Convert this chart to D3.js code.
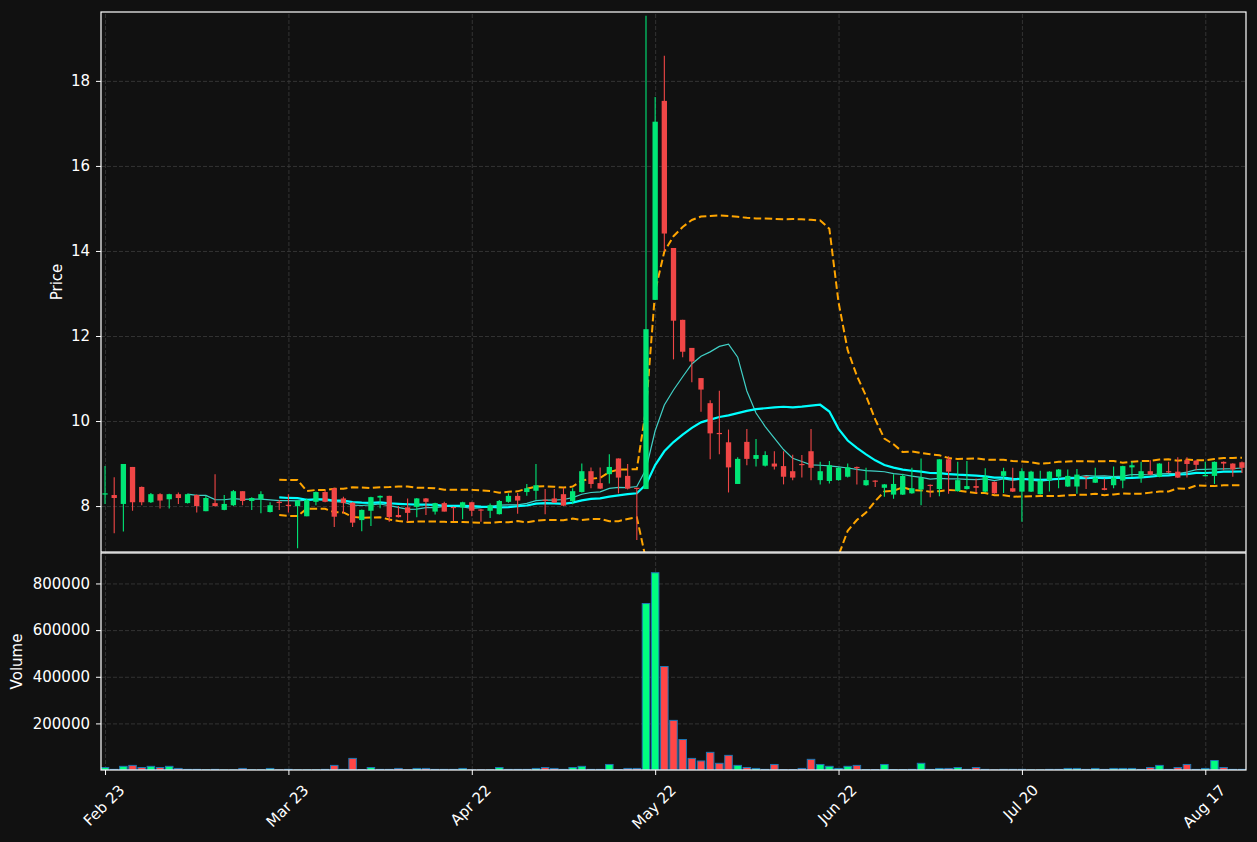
<!DOCTYPE html>
<html><head><meta charset="utf-8">
<script src="https://cdn.jsdelivr.net/npm/d3@7"></script>
<style>html,body{margin:0;padding:0;background:#111111;} svg{display:block;}</style>
</head><body>
<svg id="chart" width="1257" height="842"></svg>
<script>
// ---- data ----
const opens = [8.27,8.26,8.05,8.92,8.45,8.09,8.28,8.16,8.28,8.07,
8.26,7.88,8.07,7.91,8.02,8.35,8.12,8.16,7.86,8.10,
8.03,8.00,7.76,8.10,8.33,8.42,8.18,8.08,7.67,7.89,
8.20,8.24,7.79,7.97,7.98,8.18,7.87,8.07,7.98,7.97,
8.09,7.92,7.89,7.81,8.10,8.24,8.33,8.36,8.15,8.18,
8.28,8.12,8.33,8.82,8.54,8.75,9.12,8.71,8.43,8.40,
12.85,17.53,14.07,12.38,11.72,11.01,10.42,9.72,9.50,8.52,
9.51,9.11,8.95,9.00,8.94,8.82,8.99,9.29,8.61,8.59,
8.61,8.69,8.92,8.49,8.60,8.43,8.27,8.27,8.30,8.39,
8.50,8.40,9.10,8.35,8.40,8.47,8.34,8.57,8.71,8.42,
8.34,8.34,8.28,8.61,8.69,8.46,8.46,8.70,8.55,8.42,
8.49,8.60,8.91,8.67,8.82,8.69,8.82,8.81,9.08,9.07,
8.71,8.71,9.04,9.00,9.03];
const highs = [8.94,8.68,8.99,8.92,8.46,8.31,8.30,8.29,8.32,8.29,
8.27,8.24,8.75,8.26,8.38,8.35,8.21,8.35,8.09,8.14,
8.28,8.14,8.18,8.34,8.37,8.43,8.22,8.09,7.92,8.22,
8.25,8.24,8.00,8.18,8.19,8.19,8.08,8.10,7.99,8.10,
8.10,7.93,8.06,8.14,8.30,8.31,8.52,8.99,8.40,8.40,
8.43,8.42,9.00,8.91,8.91,9.22,9.12,8.99,8.43,19.53,
17.62,18.59,14.07,12.38,11.72,11.01,10.49,10.71,9.80,9.15,
9.81,9.58,9.29,9.29,9.29,9.21,9.20,9.81,9.04,9.06,
8.92,9.00,8.93,8.90,8.61,8.52,8.75,8.76,8.90,9.12,
8.51,9.10,9.17,9.04,9.06,8.65,8.89,8.58,8.90,8.90,
8.89,8.83,8.83,8.82,8.87,8.86,8.87,8.71,8.90,8.65,
8.93,8.95,9.04,9.04,9.08,9.01,9.04,9.15,9.15,9.08,
9.04,9.05,9.05,9.01,9.05];
const lows = [8.05,7.36,7.40,7.89,8.02,8.07,7.94,7.94,8.05,8.06,
7.85,7.88,7.99,7.90,8.00,8.02,7.91,7.83,7.85,7.91,
7.85,7.01,7.76,8.02,8.09,7.51,7.83,7.51,7.41,7.53,
7.95,7.63,7.73,7.63,7.74,7.79,7.80,7.87,7.65,7.69,
7.76,7.63,7.72,7.80,8.08,7.82,8.24,8.15,7.81,8.07,
8.00,8.04,8.32,8.42,8.40,8.53,8.30,8.39,7.20,8.40,
12.85,14.00,11.45,11.50,10.91,10.22,9.10,9.22,8.32,8.52,
8.96,8.93,8.93,8.86,8.51,8.61,8.67,8.61,8.51,8.53,
8.60,8.67,8.51,8.48,8.45,8.22,8.17,8.26,8.29,8.02,
8.21,8.23,8.29,8.34,8.39,8.31,8.32,8.29,8.31,8.33,
7.63,8.33,8.27,8.34,8.42,8.45,8.29,8.40,8.54,8.37,
8.42,8.42,8.69,8.55,8.73,8.68,8.77,8.66,8.67,8.84,
8.70,8.52,8.84,8.69,8.78];
const closes = [8.30,8.19,8.99,8.09,8.09,8.28,8.13,8.28,8.19,8.28,
8.00,8.19,8.00,8.05,8.35,8.12,8.19,8.28,8.02,8.08,
8.01,8.13,8.14,8.33,8.10,7.75,8.07,7.61,7.91,8.21,
8.24,7.74,7.74,7.84,8.18,8.10,8.07,7.87,7.96,8.09,
7.89,7.90,8.02,8.12,8.24,8.13,8.42,8.49,8.13,8.08,
8.01,8.35,8.82,8.52,8.41,8.92,8.67,8.41,8.41,12.16,
17.04,14.41,12.36,11.63,11.40,10.74,9.71,9.70,8.91,9.11,
9.11,9.20,9.20,8.93,8.69,8.67,8.97,8.90,8.82,8.96,
8.90,8.91,8.90,8.61,8.59,8.51,8.52,8.71,8.42,8.67,
8.48,9.10,8.81,8.61,8.47,8.43,8.69,8.30,8.82,8.34,
8.82,8.81,8.60,8.81,8.86,8.71,8.74,8.68,8.67,8.38,
8.67,8.94,8.96,8.82,8.74,9.00,8.80,8.67,8.99,8.97,
8.73,9.04,9.00,8.86,8.90];
const volumes = [11000,3000,16000,20000,11000,16000,11000,16000,7000,3000,
3000,1500,3000,1000,1000,7000,1000,1000,7000,1000,
3000,1000,1000,1000,3000,20000,3000,50000,2000,11000,
3000,3000,7000,1000,7000,7000,3000,3000,3000,7000,
1000,1000,1000,11000,3000,3000,3000,7000,11000,7000,
3000,11000,16000,3000,3000,24000,2000,7000,7000,714000,
846000,444000,213000,131000,50000,39000,76000,29000,63000,20000,
11000,7000,3000,24000,2000,2000,7000,46000,24000,16000,
7000,16000,20000,2000,2000,24000,2000,2000,3000,29000,
3000,7000,7000,11000,3000,11000,3000,1000,3000,3000,
3000,1000,1000,3000,3000,7000,7000,3000,7000,3000,
7000,7000,7000,3000,11000,20000,3000,11000,24000,3000,
7000,41000,11000,3000,3000];
const tickIndex = [0,20,40,60,80,100,120];
const tickLabels = ["Feb 23","Mar 23","Apr 22","May 22","Jun 22","Jul 20","Aug 17"];
const priceTicks = [8,10,12,14,16,18];
const volumeTicks = [200000,400000,600000,800000];
const maShort = 10, maLong = 20, bbWindow = 20, bbK = 2;

// ---- layout & style ----
const L = 101, R = 1246, pTop = 12, pBot = 552, vTop = 553, vBot = 770;
const FONT = "DejaVu Sans, sans-serif";
const FS = 15;
const upC = "#00e676", downC = "#f04646", upV = "#00ff80", downV = "#ff4646";

const svg = d3.select("#chart");
svg.append("rect").attr("width",1257).attr("height",842).attr("fill","#111111");

const n = closes.length;
const x = d3.scaleLinear().domain([-0.44, n - 1 + 0.44]).range([L, R]);
const step = x(1) - x(0);
const lo = d3.min(lows), hi = d3.max(highs), pad = (hi - lo) * 0.0072;
const y = d3.scaleLinear().domain([lo - pad, hi + pad]).range([pBot, pTop]);
const yv = d3.scaleLinear().domain([0.3 * d3.min(volumes), 1.1 * d3.max(volumes)]).range([vBot, vTop]);

const defs = svg.append("defs");
defs.append("clipPath").attr("id","clipP").append("rect").attr("x",L).attr("y",pTop).attr("width",R-L).attr("height",pBot-pTop);
defs.append("clipPath").attr("id","clipV").append("rect").attr("x",L).attr("y",vTop).attr("width",R-L).attr("height",vBot-vTop);

function styleGrid(g){
  g.select(".domain").remove();
  g.selectAll("text").remove();
  g.selectAll("line").attr("stroke","#3c3c3c").attr("stroke-width",0.8).attr("stroke-dasharray","4,2");
}
svg.append("g").attr("transform",`translate(${L},0)`).call(d3.axisLeft(y).tickValues(priceTicks).tickSize(-(R-L))).call(styleGrid);
svg.append("g").attr("transform",`translate(${L},0)`).call(d3.axisLeft(yv).tickValues(volumeTicks).tickSize(-(R-L))).call(styleGrid);
svg.append("g").attr("transform",`translate(0,${pBot})`).call(d3.axisBottom(x).tickValues(tickIndex).tickSize(-(pBot-pTop))).call(styleGrid);
svg.append("g").attr("transform",`translate(0,${vBot})`).call(d3.axisBottom(x).tickValues(tickIndex).tickSize(-(vBot-vTop))).call(styleGrid);

// indicators computed from the closes
function sma(arr, w){ return arr.map((_,i)=> i < w-1 ? null : d3.mean(arr.slice(i-w+1,i+1))); }
function pstd(arr, w){ return arr.map((_,i)=> {
  if (i < w-1) return null;
  const s = arr.slice(i-w+1,i+1), m = d3.mean(s);
  return Math.sqrt(d3.mean(s, v => (v-m)*(v-m)));
}); }
const ma10 = sma(closes, maShort), ma20 = sma(closes, maLong);
const bbMid = sma(closes, bbWindow), bbSd = pstd(closes, bbWindow);
const bbUp = bbMid.map((m,i)=> m==null?null:m + bbK*bbSd[i]);
const bbLo = bbMid.map((m,i)=> m==null?null:m - bbK*bbSd[i]);

const line = d3.line().defined(d=>d!=null).x((d,i)=>x(i)).y(d=>y(d));
const lines = svg.append("g").attr("clip-path","url(#clipP)");
lines.append("path").datum(bbUp).attr("d",line).attr("fill","none").attr("stroke","#ffa500").attr("stroke-width",2).attr("stroke-dasharray","7.5,3.5");
lines.append("path").datum(bbLo).attr("d",line).attr("fill","none").attr("stroke","#ffa500").attr("stroke-width",2).attr("stroke-dasharray","7.5,3.5");
lines.append("path").datum(ma10).attr("d",line).attr("fill","none").attr("stroke","#40d0c6").attr("stroke-width",1.2);
lines.append("path").datum(ma20).attr("d",line).attr("fill","none").attr("stroke","#00ffff").attr("stroke-width",2.2);

// candles
const bw = step * 0.58;
const cg = svg.append("g").attr("clip-path","url(#clipP)");
const idx = d3.range(n);
cg.selectAll("line.wick").data(idx).join("line").attr("class","wick")
  .attr("x1",i=>x(i)).attr("x2",i=>x(i)).attr("y1",i=>y(highs[i])).attr("y2",i=>y(lows[i]))
  .attr("stroke",i=>closes[i]>=opens[i]?upC:downC).attr("stroke-width",1.1);
cg.selectAll("rect.body").data(idx).join("rect").attr("class","body")
  .attr("x",i=>x(i)-bw/2).attr("width",bw)
  .attr("y",i=>y(Math.max(opens[i],closes[i])))
  .attr("height",i=>Math.max(1.2, Math.abs(y(opens[i])-y(closes[i]))))
  .attr("fill",i=>closes[i]>=opens[i]?upC:downC);

// volume
const vw = step * 0.82;
svg.append("g").attr("clip-path","url(#clipV)").selectAll("rect").data(idx).join("rect")
  .attr("x",i=>x(i)-vw/2).attr("width",vw)
  .attr("y",i=>yv(volumes[i])).attr("height",i=>Math.max(0, vBot - yv(volumes[i])))
  .attr("fill",i=>closes[i]>=opens[i]?upV:downV)
  .attr("stroke","#1f77b4").attr("stroke-width",1);

// axes
function styleAxis(g){
  g.select(".domain").remove();
  g.selectAll("line").attr("stroke","#ffffff").attr("stroke-width",1);
  g.selectAll("text").attr("fill","#ffffff").attr("font-size",FS).attr("font-family",FONT);
}
svg.append("g").attr("transform",`translate(${L},0)`).call(d3.axisLeft(y).tickValues(priceTicks).tickFormat(d3.format("d")).tickSize(5).tickPadding(6)).call(styleAxis);
svg.append("g").attr("transform",`translate(${L},0)`).call(d3.axisLeft(yv).tickValues(volumeTicks).tickFormat(d3.format("d")).tickSize(5).tickPadding(6)).call(styleAxis);
const xa = svg.append("g").attr("transform",`translate(0,${vBot})`).call(d3.axisBottom(x).tickValues(tickIndex).tickFormat((d,i)=>tickLabels[i]).tickSize(5)).call(styleAxis);
xa.selectAll("text").each(function(){
  const t = d3.select(this);
  const w = this.getComputedTextLength();
  const cy = 13 + (w + 13) / (2*Math.SQRT2);
  t.attr("y",null).attr("dy",null).attr("text-anchor","middle").attr("dominant-baseline","central")
   .attr("transform",`translate(-1.5,${cy}) rotate(-45)`);
});

// spines
svg.append("rect").attr("x",L).attr("y",pTop).attr("width",R-L).attr("height",pBot-pTop).attr("fill","none").attr("stroke","#ffffff").attr("stroke-width",1.2);
svg.append("rect").attr("x",L).attr("y",vTop).attr("width",R-L).attr("height",vBot-vTop).attr("fill","none").attr("stroke","#ffffff").attr("stroke-width",1.2);

// axis titles
svg.append("text").attr("transform",`translate(57,${(pTop+pBot)/2}) rotate(-90)`).attr("text-anchor","middle").attr("dominant-baseline","central")
  .attr("fill","#ffffff").attr("font-size",FS).attr("font-family",FONT).text("Price");
svg.append("text").attr("transform",`translate(17,${(vTop+vBot)/2}) rotate(-90)`).attr("text-anchor","middle").attr("dominant-baseline","central")
  .attr("fill","#ffffff").attr("font-size",FS).attr("font-family",FONT).text("Volume");
</script>
</body></html>
